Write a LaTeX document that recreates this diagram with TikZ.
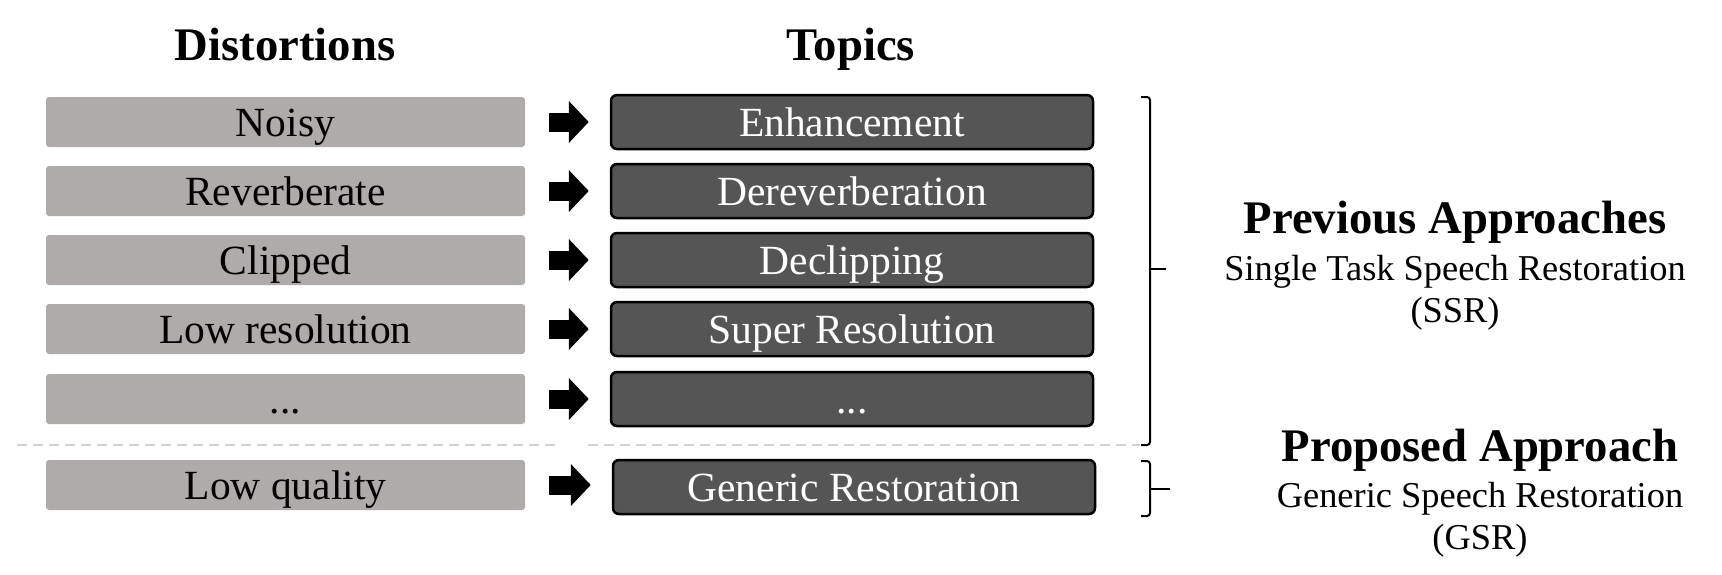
\documentclass[tikz,border=0pt]{standalone}
\usepackage{fontspec}
\setmainfont{Liberation Serif}
\usetikzlibrary{arrows.meta}
\definecolor{distgray}{HTML}{AEABAA}
\definecolor{topicgray}{HTML}{555555}
\definecolor{sepgray}{HTML}{D2D2D2}
\begin{document}
\begin{tikzpicture}[x=1pt,y=-1pt,
  boxfont/.style={font=\fontsize{41.5}{48}\selectfont, text height=29pt, text depth=1pt},
  distbox/.style={boxfont, fill=distgray, rounded corners=3pt, minimum width=479pt,
    minimum height=50pt, inner sep=0pt},
  topicbox/.style={boxfont, fill=topicgray, draw=black, line width=2.5pt, rounded corners=6pt,
    minimum width=482pt, minimum height=54pt, inner sep=0pt, text=white},
  heading/.style={font=\fontsize{46.7}{54}\selectfont\bfseries, anchor=base},
  subhead/.style={font=\fontsize{36.4}{44}\selectfont, anchor=base},
  flow/.style={line width=19pt, -{Triangle[length=20pt,width=41pt]},
    shorten <=24pt, shorten >=21pt},
  sepline/.style={sepgray, line width=1.5pt, dash pattern=on 10pt off 6pt},
  brace/.style={line width=2pt, rounded corners=3pt}]
\useasboundingbox (0,0) rectangle (1722,574);

% column headings
\node[heading] (hdist) at (285,60) {Distortions};
\node[heading] (htop) at (851,60) {Topics};

% distortions (left) and the matching topics (right)
\node[distbox] (d1) at (285.5,122) {Noisy};
\node[distbox] (d2) at (285.5,191) {Reverberate};
\node[distbox] (d3) at (285.5,260) {Clipped};
\node[distbox] (d4) at (285.5,329) {Low resolution};
\node[distbox] (d5) at (285.5,399) {...};
\node[distbox] (d6) at (285.5,485) {Low quality};

\node[topicbox] (t1) at (852,122) {Enhancement};
\node[topicbox] (t2) at (852,191) {Dereverberation};
\node[topicbox] (t3) at (852,260) {Declipping};
\node[topicbox] (t4) at (852,329) {Super Resolution};
\node[topicbox] (t5) at (852,399) {...};
\node[topicbox] (t6) at (854,487) {Generic Restoration};

\foreach \i in {1,...,6} \draw[flow] (d\i.east) -- (d\i.east -| t\i.west);

% separator between previous and proposed approaches
\coordinate (sepA) at (17,445);
\coordinate (sepB) at (556,445);
\coordinate (sepC) at (588,445);
\coordinate (sepD) at (1140,445);
\draw[sepline] (sepA) -- (sepB);
\draw[sepline] (sepC) -- (sepD);

% braces
\draw[brace] (1141,97) -- (1150,97) -- (1150,445) -- (1141,445);
\draw[line width=2pt] (1150,269) -- (1166,269);
\draw[brace] (1141,461) -- (1150,461) -- (1150,516) -- (1141,516);
\draw[line width=2pt] (1150,489) -- (1170,489);

% approach labels
\node[heading] (prev) at (1455,233) {Previous Approaches};
\node[subhead] (ssr) at (1455,280) {Single Task Speech Restoration};
\node[subhead] (ssrabbr) at (1455,322) {(SSR)};
\node[heading] (prop) at (1480,461) {Proposed Approach};
\node[subhead] (gsr) at (1480,507) {Generic Speech Restoration};
\node[subhead] (gsrabbr) at (1480,549) {(GSR)};
\end{tikzpicture}
\end{document}
